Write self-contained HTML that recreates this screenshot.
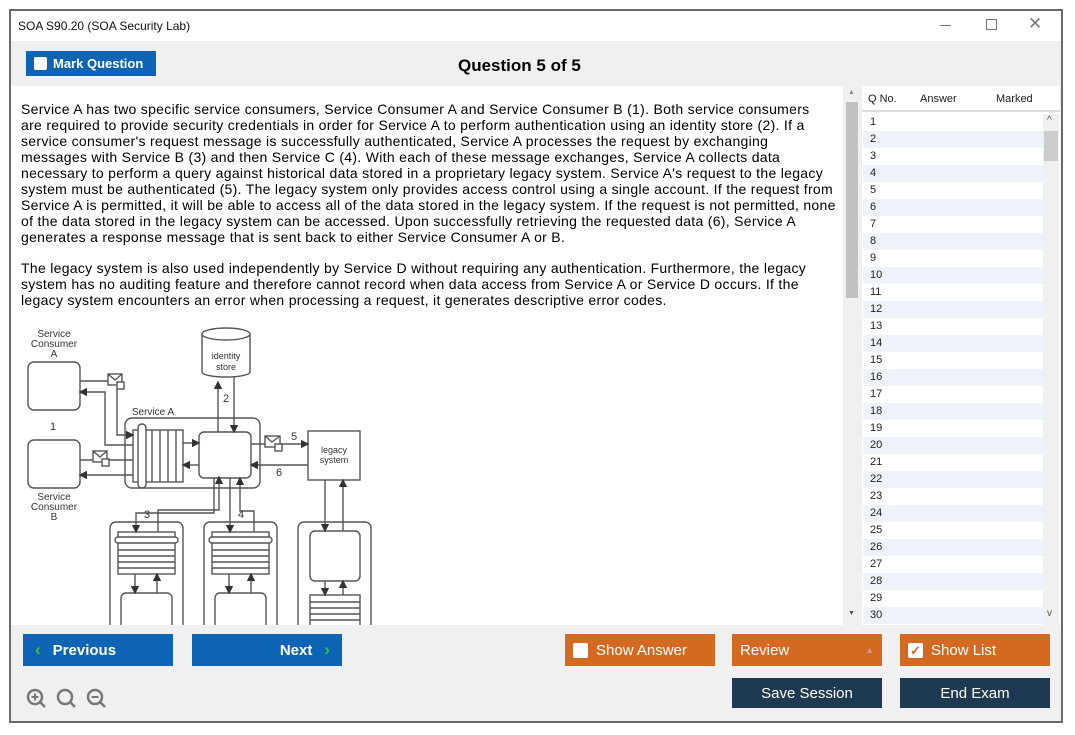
<!DOCTYPE html>
<html><head><meta charset="utf-8"><style>
*{margin:0;padding:0;box-sizing:border-box}
body{width:1075px;height:735px;background:#fff;position:relative;overflow:hidden;font-family:"Liberation Sans",Arial,sans-serif}
.a{position:absolute}
.win{left:9px;top:9px;width:1054px;height:714px;border:2px solid #6a6a6a;background:#f0f0f0}
.btn{position:absolute;color:#fff;font-family:"Liberation Sans",Arial,sans-serif;font-size:15px;display:flex;align-items:center}
.q{font-size:14px;line-height:16px;color:#000;white-space:nowrap;letter-spacing:0.3px}
.row{position:absolute;left:863px;width:180px;height:17px;font-size:11px;padding-left:7px;line-height:17px;color:#222}
</style></head><body>
<div class="a win"></div>
<div class="a" style="left:11px;top:11px;width:1050px;height:30px;background:#fff"></div>
<div class="a" style="left:18px;top:19px;font-size:12px;color:#111">SOA S90.20 (SOA Security Lab)</div>
<div class="a" style="left:940px;top:25px;width:11px;height:1px;background:#777"></div>
<div class="a" style="left:986px;top:19px;width:11px;height:11px;border:1px solid #777"></div>
<div class="a" style="left:1028px;top:14px;font-size:17px;color:#777">✕</div>
<div class="btn" style="left:26px;top:51px;width:130px;height:25px;background:#0e64b4;font-weight:bold;font-size:13px"><span style="display:inline-block;width:13px;height:13px;background:#fff;border-radius:2px;margin:0 6px 0 8px"></span>Mark Question</div>
<div class="a" style="left:458px;top:56px;font-size:17px;font-weight:bold">Question 5 of 5</div>
<div class="a" style="left:11px;top:86px;width:832px;height:539px;background:#fff"></div>
<div class="a" style="left:845px;top:86px;width:14px;height:539px;background:#f0f0f0"></div>
<div class="a" style="left:846px;top:102px;width:12px;height:196px;background:#c1c1c1"></div>
<div class="a" style="left:848px;top:89px;font-size:7px;color:#888">▲</div>
<div class="a" style="left:848px;top:610px;font-size:7px;color:#555">▼</div>
<div class="a q" style="left:21px;top:101px">Service A has two specific service consumers, Service Consumer A and Service Consumer B (1). Both service consumers<br>are required to provide security credentials in order for Service A to perform authentication using an identity store (2). If a<br>service consumer's request message is successfully authenticated, Service A processes the request by exchanging<br>messages with Service B (3) and then Service C (4). With each of these message exchanges, Service A collects data<br>necessary to perform a query against historical data stored in a proprietary legacy system. Service A's request to the legacy<br>system must be authenticated (5). The legacy system only provides access control using a single account. If the request from<br>Service A is permitted, it will be able to access all of the data stored in the legacy system. If the request is not permitted, none<br>of the data stored in the legacy system can be accessed. Upon successfully retrieving the requested data (6), Service A<br>generates a response message that is sent back to either Service Consumer A or B.</div>
<div class="a q" style="left:21px;top:260px">The legacy system is also used independently by Service D without requiring any authentication. Furthermore, the legacy<br>system has no auditing feature and therefore cannot record when data access from Service A or Service D occurs. If the<br>legacy system encounters an error when processing a request, it generates descriptive error codes.</div>
<svg class="a" style="left:0;top:0" width="845" height="625" viewBox="0 0 845 625">
<defs><marker id="ar" markerWidth="6" markerHeight="6" refX="5" refY="3" orient="auto"><path d="M0,0L6,3L0,6z" fill="#333"/></marker></defs>
<g fill="none" stroke="#555" stroke-width="1.4">
<rect x="28" y="362" width="52" height="48" rx="6"/>
<rect x="28" y="440" width="52" height="48" rx="6"/>
<path d="M202,334 v38 a24,5 0 0 0 48,0 v-38"/><ellipse cx="226" cy="334" rx="24" ry="6"/>
<rect x="125" y="418" width="135" height="70" rx="7"/>
<rect x="133" y="430" width="50" height="52"/>
<rect x="138" y="424" width="8" height="64" rx="4" fill="#fff"/>
<path d="M152,430v52M160,430v52M168,430v52M176,430v52"/>
<rect x="199" y="432" width="52" height="46" rx="5"/>
<rect x="308" y="431" width="52" height="49"/>
<rect x="110" y="522" width="73" height="110" rx="6"/>
<rect x="204" y="522" width="73" height="110" rx="6"/>
<rect x="298" y="522" width="73" height="110" rx="6"/>
<rect x="118" y="532" width="57" height="42"/><rect x="115" y="537" width="63" height="6" rx="3" fill="#fff"/>
<path d="M118,550h57M118,556h57M118,562h57M118,568h57"/>
<rect x="212" y="532" width="57" height="42"/><rect x="209" y="537" width="63" height="6" rx="3" fill="#fff"/>
<path d="M212,550h57M212,556h57M212,562h57M212,568h57"/>
<rect x="121" y="593" width="51" height="40" rx="5"/>
<rect x="215" y="593" width="51" height="40" rx="5"/>
<rect x="310" y="531" width="50" height="50" rx="5"/>
<rect x="310" y="595" width="50" height="35"/>
<path d="M310,602h50M310,608h50M310,614h50M310,620h50"/>
<path d="M80,381h30"/>
<path d="M117,388v47h16" marker-end="url(#ar)"/>
<path d="M133,445h-28v-53h-25" marker-end="url(#ar)"/>
<path d="M80,460h53"/>
<path d="M133,475h-53" marker-end="url(#ar)"/>
<path d="M183,443h16" marker-end="url(#ar)"/>
<path d="M199,465h-16" marker-end="url(#ar)"/>
<path d="M218,432v-50" marker-end="url(#ar)"/>
<path d="M234,377v55" marker-end="url(#ar)"/>
<path d="M251,444h57" marker-end="url(#ar)"/>
<path d="M308,465h-57" marker-end="url(#ar)"/>
<path d="M214,478v35h-78v19" marker-end="url(#ar)"/>
<path d="M158,532v-22h61v-33" marker-end="url(#ar)"/>
<path d="M230,478v54" marker-end="url(#ar)"/>
<path d="M254,532v-21h-14v-33" marker-end="url(#ar)"/>
<path d="M325,480v51" marker-end="url(#ar)"/>
<path d="M343,531v-51" marker-end="url(#ar)"/>
<path d="M135,574v19" marker-end="url(#ar)"/><path d="M157,593v-19" marker-end="url(#ar)"/>
<path d="M229,574v19" marker-end="url(#ar)"/><path d="M251,593v-19" marker-end="url(#ar)"/>
<path d="M325,581v14" marker-end="url(#ar)"/><path d="M343,595v-14" marker-end="url(#ar)"/>
<rect x="108" y="374" width="14" height="11" fill="#fff"/><path d="M108,374l7,6l7,-6"/><rect x="117" y="382" width="7" height="7" fill="#fff"/>
<rect x="93" y="451" width="14" height="11" fill="#fff"/><path d="M93,451l7,6l7,-6"/><rect x="102" y="459" width="7" height="7" fill="#fff"/>
<rect x="265" y="436" width="15" height="11" fill="#fff"/><path d="M265,436l7,6l8,-6"/><rect x="275" y="444" width="7" height="7" fill="#fff"/>
</g>
<g font-family="Liberation Sans,sans-serif" font-size="10" fill="#333" text-anchor="middle">
<text x="54" y="337">Service</text><text x="54" y="347">Consumer</text><text x="54" y="357">A</text>
<text x="54" y="500">Service</text><text x="54" y="510">Consumer</text><text x="54" y="520">B</text>
<text x="226" y="359" font-size="9">identity</text><text x="226" y="370" font-size="9">store</text>
<text x="334" y="453" font-size="9">legacy</text><text x="334" y="463" font-size="9">system</text>
<text x="153" y="415">Service A</text>
<text x="53" y="430" font-size="11">1</text><text x="226" y="402" font-size="11">2</text>
<text x="147" y="518" font-size="11">3</text><text x="241" y="518" font-size="11">4</text>
<text x="294" y="440" font-size="11">5</text><text x="279" y="476" font-size="11">6</text>
</g>
</svg>
<div class="a" style="left:862px;top:86px;width:198px;height:539px;background:#fff"></div>
<div class="a" style="left:862px;top:86px;width:198px;height:26px;background:#fff;border-bottom:2px solid #ddd;font-size:11px;color:#222">
<span class="a" style="left:6px;top:7px">Q No.</span><span class="a" style="left:58px;top:7px">Answer</span><span class="a" style="left:134px;top:7px">Marked</span></div>
<div class="a" style="left:1043px;top:114px;width:16px;height:511px;background:#f0f0f0"></div>
<div class="a" style="left:1044px;top:131px;width:14px;height:30px;background:#cdcdcd"></div>
<div class="a" style="left:1047px;top:115px;font-size:10px;color:#555">^</div>
<div class="a" style="left:1047px;top:608px;font-size:10px;color:#555">v</div>
<div id="rows"></div>
<div class="a" style="left:11px;top:625px;width:1050px;height:96px;background:#f0f0f0"></div>
<div class="btn" style="left:23px;top:634px;width:150px;height:32px;background:#0e64b4;font-weight:bold"><span style="color:#3c3;margin:0 12px 0 12px;font-size:17px">&lsaquo;</span>Previous</div>
<div class="btn" style="left:192px;top:634px;width:150px;height:32px;background:#0e64b4;font-weight:bold;justify-content:flex-end"><span>Next</span><span style="color:#3c3;margin:0 12px 0 12px;font-size:17px">&rsaquo;</span></div>
<svg class="a" style="left:25px;top:687px" width="90" height="26" viewBox="0 0 90 26" fill="none" stroke="#777" stroke-width="2.5">
<circle cx="10" cy="10" r="7"/><path d="M15,15l5,5"/><path d="M6.5,10h7M10,6.5v7" stroke-width="2"/>
<circle cx="40" cy="10" r="7"/><path d="M45,15l5,5"/>
<circle cx="70" cy="10" r="7"/><path d="M75,15l5,5"/><path d="M66.5,10h7" stroke-width="2"/>
</svg>
<div class="btn" style="left:565px;top:634px;width:150px;height:32px;background:#d46a22"><span style="display:inline-block;width:15px;height:15px;background:#fff;border-radius:2px;margin:0 8px 0 8px"></span>Show Answer</div>
<div class="btn" style="left:732px;top:634px;width:150px;height:32px;background:#d46a22;padding-left:8px">Review<span style="margin-left:auto;margin-right:8px;font-size:9px;color:#c99">▲</span></div>
<div class="btn" style="left:900px;top:634px;width:150px;height:32px;background:#d46a22"><span style="display:inline-block;width:15px;height:15px;background:#fff;border-radius:2px;margin:0 8px 0 8px;color:#d46a22;font-size:13px;line-height:15px;text-align:center;font-weight:bold">✓</span>Show List</div>
<div class="btn" style="left:732px;top:678px;width:150px;height:30px;background:#1d3a52;justify-content:center">Save Session</div>
<div class="btn" style="left:900px;top:678px;width:150px;height:30px;background:#1d3a52;justify-content:center">End Exam</div>
<script>
var h='';for(var i=1;i<=30;i++){h+='<div class="row" style="top:'+(114+(i-1)*17)+'px;background:'+(i%2?'#fff':'#eef3fa')+'">'+i+'</div>';}
document.getElementById('rows').innerHTML=h;
</script>
</body></html>
